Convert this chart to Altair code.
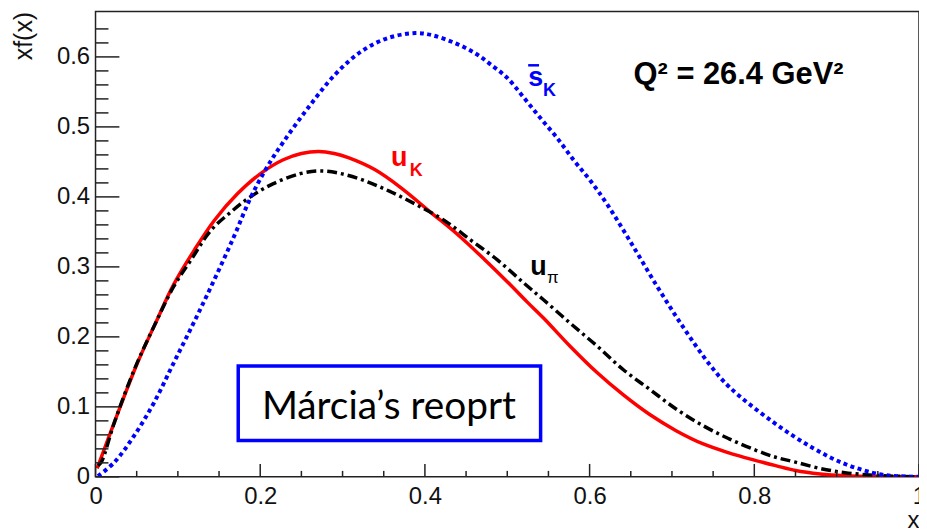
import altair as alt
import pandas as pd

# ---- data ----
uK_x = [0.002, 0.029, 0.051, 0.073, 0.095, 0.12, 0.144, 0.172, 0.2, 0.228, 0.25, 0.271, 0.29, 0.307,
        0.339, 0.371, 0.407, 0.44, 0.472, 0.504, 0.524, 0.544, 0.576, 0.609, 0.641, 0.673, 0.705,
        0.738, 0.77, 0.80, 0.826, 0.85, 0.88, 0.91, 0.95, 1.0]
uK_y = [0.012, 0.097, 0.163, 0.220, 0.275, 0.324, 0.366, 0.404, 0.433, 0.453, 0.462, 0.465, 0.462, 0.456,
        0.439, 0.413, 0.378, 0.346, 0.311, 0.274, 0.250, 0.227, 0.187, 0.149, 0.117, 0.089, 0.066,
        0.047, 0.034, 0.024, 0.016, 0.009, 0.004, 0.0015, 0.0003, 0.0]

upi_x = [0.003, 0.007, 0.023, 0.047, 0.071, 0.095, 0.116, 0.140, 0.164, 0.188, 0.216, 0.248, 0.271,
         0.295, 0.327, 0.359, 0.391, 0.424, 0.456, 0.488, 0.52, 0.544, 0.576, 0.609, 0.641, 0.673,
         0.705, 0.738, 0.770, 0.802, 0.826, 0.85, 0.88, 0.91, 0.95, 1.0]
upi_y = [0.016, 0.021, 0.078, 0.153, 0.215, 0.272, 0.310, 0.352, 0.378, 0.400, 0.419, 0.433, 0.437,
         0.434, 0.423, 0.407, 0.388, 0.366, 0.338, 0.310, 0.277, 0.253, 0.220, 0.187, 0.153, 0.125,
         0.097, 0.073, 0.054, 0.038, 0.028, 0.021, 0.012, 0.006, 0.002, 0.0]

sK_x = [0.003, 0.023, 0.047, 0.071, 0.095, 0.12, 0.144, 0.168, 0.188, 0.208, 0.229, 0.258, 0.291,
        0.323, 0.355, 0.389, 0.409, 0.436, 0.460, 0.480, 0.500, 0.520, 0.540, 0.560, 0.581, 0.601,
        0.621, 0.649, 0.681, 0.713, 0.746, 0.770, 0.822, 0.870, 0.911, 0.951, 0.975, 1.0]
sK_y = [0.001, 0.021, 0.059, 0.106, 0.163, 0.222, 0.281, 0.343, 0.398, 0.442, 0.480, 0.527, 0.575,
        0.608, 0.627, 0.634, 0.631, 0.620, 0.606, 0.589, 0.570, 0.542, 0.513, 0.485, 0.452, 0.423,
        0.390, 0.337, 0.274, 0.215, 0.160, 0.128, 0.079, 0.042, 0.018, 0.004, 0.001, 0.0]

x_major = [0, 0.2, 0.4, 0.6, 0.8, 1.0]
x_minor = [0.05, 0.1, 0.15, 0.25, 0.3, 0.35, 0.45, 0.5, 0.55, 0.65, 0.7, 0.75, 0.85, 0.9, 0.95]
y_major = [0, 0.1, 0.2, 0.3, 0.4, 0.5, 0.6]
y_minor = [0.02, 0.04, 0.06, 0.08, 0.12, 0.14, 0.16, 0.18, 0.22, 0.24, 0.26, 0.28, 0.32, 0.34,
           0.36, 0.38, 0.42, 0.44, 0.46, 0.48, 0.52, 0.54, 0.56, 0.58, 0.62, 0.64]

W, H = 828, 468
FONT = "Liberation Sans"
xs = alt.Scale(domain=[0, 1], nice=False, zero=False)
ys = alt.Scale(domain=[0, 0.665], nice=False, zero=True)

AXX = alt.Axis(
    values=x_major, format="~g", ticks=False, domain=False, grid=False,
    labelFlush=False, labelOverlap=False, labelFont=FONT, labelFontSize=24,
    labelColor="#111", labelPadding=8,
    title="x", titleFont=FONT, titleFontSize=24, titleFontWeight="normal",
    titleColor="#111", titleX=822, titleY=51, titleAlign="center",
    titleBaseline="alphabetic")
AXY = alt.Axis(
    values=y_major, format="~g", ticks=False, domain=False, grid=False,
    labelOverlap=False, labelFont=FONT, labelFontSize=24, labelColor="#111",
    labelPadding=6,
    title="xf(x)", titleFont=FONT, titleFontSize=25, titleFontWeight="normal",
    titleColor="#111", titleAngle=270, titleX=-64, titleY=0, titleAlign="right",
    titleBaseline="alphabetic")


def X(field="x"):
    return alt.X(f"{field}:Q", scale=xs, axis=AXX)


def Y(field="y"):
    return alt.Y(f"{field}:Q", scale=ys, axis=AXY)


def curve(xv, yv, color, width, dash=None):
    kw = dict(color=color, strokeWidth=width, interpolate="catmull-rom", clip=True)
    if dash:
        kw["strokeDash"] = dash
    return alt.Chart(pd.DataFrame({"x": xv, "y": yv})).mark_line(**kw).encode(x=X(), y=Y())


def label(txt, x, y, color, size, weight="bold", font=FONT, align="left"):
    df = pd.DataFrame({"x": [x], "y": [y], "t": [txt]})
    return alt.Chart(df).mark_text(align=align, baseline="alphabetic", color=color,
                                   fontSize=size, fontWeight=weight, font=font).encode(
        x=X(), y=Y(), text="t:N")


red = curve(uK_x, uK_y, "#ff0000", 3.5)
black = curve(upi_x, upi_y, "#000000", 3.5, dash=[10, 4, 3, 4])
blue = curve(sK_x, sK_y, "#0000ff", 4, dash=[4, 3.5])

tick_col = "#222"
y_maj = alt.Chart(pd.DataFrame({"y": y_major})).mark_rule(color=tick_col, strokeWidth=1.5).encode(
    y=Y(), x=alt.value(0), x2=alt.value(24))
y_min = alt.Chart(pd.DataFrame({"y": y_minor})).mark_rule(color=tick_col, strokeWidth=1.5).encode(
    y=Y(), x=alt.value(0), x2=alt.value(13))
x_maj = alt.Chart(pd.DataFrame({"x": x_major})).mark_rule(color=tick_col, strokeWidth=1.5).encode(
    x=X(), y=alt.value(H), y2=alt.value(H - 13))
x_min = alt.Chart(pd.DataFrame({"x": x_minor})).mark_rule(color=tick_col, strokeWidth=1.5).encode(
    x=X(), y=alt.value(H), y2=alt.value(H - 6))

# annotation box
box = alt.Chart(pd.DataFrame({"x": [0.1733], "x2": [0.5405], "y": [0.1584], "y2": [0.0518]})).mark_rect(
    fill="white", stroke="#0000ff", strokeWidth=3.5).encode(
    x=X(), x2="x2:Q", y=Y(), y2="y2:Q")
box_text = label("Márcia’s reoprt", 0.3563, 0.0824, "#000000", 39, weight="normal",
                 font="Lato", align="center")

overline = alt.Chart(pd.DataFrame({"x": [0.5254], "x2": [0.5386], "y": [0.588]})).mark_rule(
    color="#0000ff", strokeWidth=2.5).encode(x=X(), x2="x2:Q", y=Y())

labels = [
    label("s", 0.5254, 0.5582, "#0000ff", 27),
    label("K", 0.5435, 0.544, "#0000ff", 18),
    label("u", 0.3587, 0.4446, "#ff0000", 27),
    label("K", 0.3816, 0.4304, "#ff0000", 18),
    label("u", 0.5278, 0.2884, "#000000", 27),
    label("π", 0.5483, 0.277, "#000000", 17, weight="normal"),
    label("Q² = 26.4 GeV²", 0.6534, 0.561, "#000000", 31),
]

chart = alt.layer(
    red, black, blue, y_maj, y_min, x_maj, x_min, box, box_text, overline, *labels
).properties(
    width=W, height=H,
    autosize=alt.AutoSizeParams(type="none"),
    padding={"left": 88, "top": 2, "right": 0, "bottom": 52},
    background="white",
).configure_view(stroke="#222", strokeWidth=1.5)

chart.save("out.html", embed_options={"renderer": "svg", "actions": False})
